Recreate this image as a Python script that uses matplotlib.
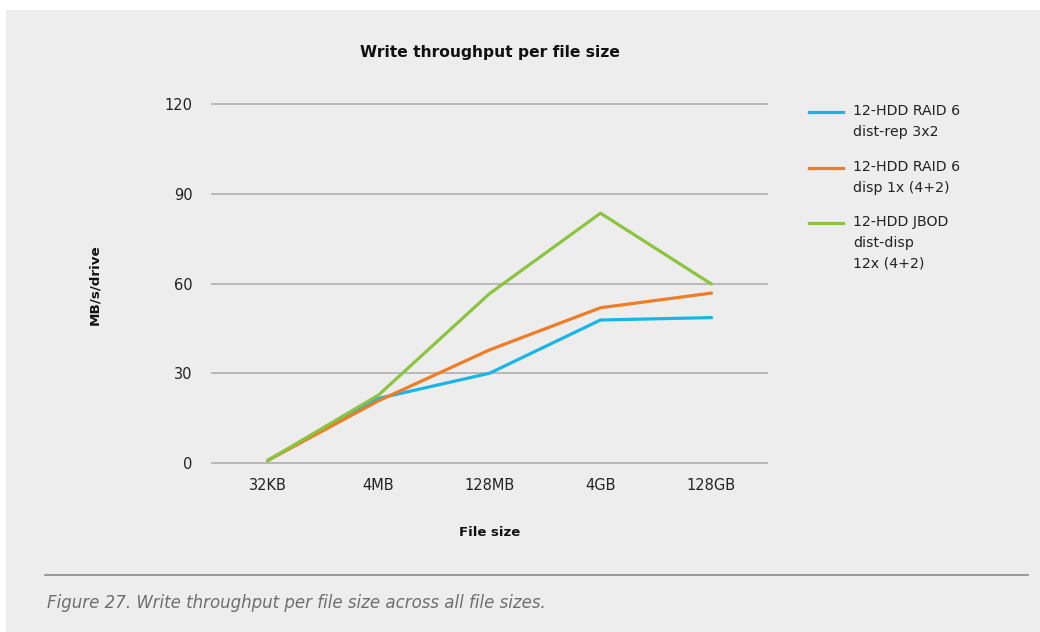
import matplotlib.pyplot as plt
from matplotlib.patches import Rectangle
from matplotlib.lines import Line2D

# data
file_sizes = ['32KB', '4MB', '128MB', '4GB', '128GB']
raid6_dist_rep = [0.8, 21.6, 30.0, 47.8, 48.6]
raid6_disp = [0.8, 20.8, 37.8, 51.9, 56.8]
jbod_dist_disp = [0.8, 22.7, 56.6, 83.5, 59.8]

series_labels = ['12-HDD RAID 6\ndist-rep 3x2',
                 '12-HDD RAID 6\ndisp 1x (4+2)',
                 '12-HDD JBOD\ndist-disp\n12x (4+2)']
colors = ['#19b5e6', '#f07d26', '#8cc43f']

W, H = 1040, 632
fig = plt.figure(figsize=(W / 100, H / 100), dpi=100)
fig.patch.set_facecolor('white')
fig.patches.append(Rectangle((6 / W, 0), 1 - 6 / W, 1 - 10 / H, transform=fig.transFigure,
                             facecolor='#ededed', edgecolor='none', zorder=-10))

ax = fig.add_axes([212 / W, (H - 463) / H, 555 / W, 359 / H])
ax.set_facecolor('none')

x = list(range(len(file_sizes)))
for vals, c in zip([raid6_dist_rep, raid6_disp, jbod_dist_disp], colors):
    ax.plot(x, vals, color=c, lw=2.3, solid_capstyle='round', zorder=3)

ax.set_xlim(-0.5, len(file_sizes) - 0.5)
ax.set_ylim(0, 120)
ax.set_yticks([0, 30, 60, 90, 120])
ax.set_xticks(x)
ax.set_xticklabels(file_sizes)
ax.yaxis.grid(True, color='#b4b4b4', lw=1.3)
ax.set_axisbelow(True)
for s in ax.spines.values():
    s.set_visible(False)
ax.tick_params(axis='both', length=0, labelsize=10.5, colors='#222222')
ax.tick_params(axis='y', pad=14)
ax.tick_params(axis='x', pad=11)
for g in ax.get_ygridlines():
    g.set_clip_on(False)

fig.text(489.5 / W, 1 - 52 / H, 'Write throughput per file size', ha='center', va='center',
         fontsize=11.2, fontweight='bold', color='#111111')
fig.text(489.5 / W, 1 - 533 / H, 'File size', ha='center', va='center',
         fontsize=9.5, fontweight='bold', color='#111111')
fig.text(95 / W, 1 - 285 / H, 'MB/s/drive', ha='center', va='center', rotation=90,
         fontsize=9.7, fontweight='bold', color='#111111')

# legend drawn by hand so the swatch lines up with the first text line
leg_y = [112, 168, 223]
for yy, lab, c in zip(leg_y, series_labels, colors):
    fig.add_artist(Line2D([809 / W, 843 / W], [1 - yy / H, 1 - yy / H], color=c, lw=2.3,
                          transform=fig.transFigure))
    fig.text(853 / W, 1 - (yy - 8) / H, lab, ha='left', va='top', fontsize=10.2,
             color='#222222', linespacing=1.6)

# caption
fig.add_artist(Line2D([45 / W, 1028 / W], [1 - 575 / H, 1 - 575 / H], color='#8a8a8a', lw=1.2,
                      transform=fig.transFigure))
fig.text(47 / W, 1 - 603 / H, 'Figure 27. Write throughput per file size across all file sizes.',
         ha='left', va='center', fontsize=12, style='italic', color='#6e6e6e')

fig.savefig('out.png', dpi=100)
